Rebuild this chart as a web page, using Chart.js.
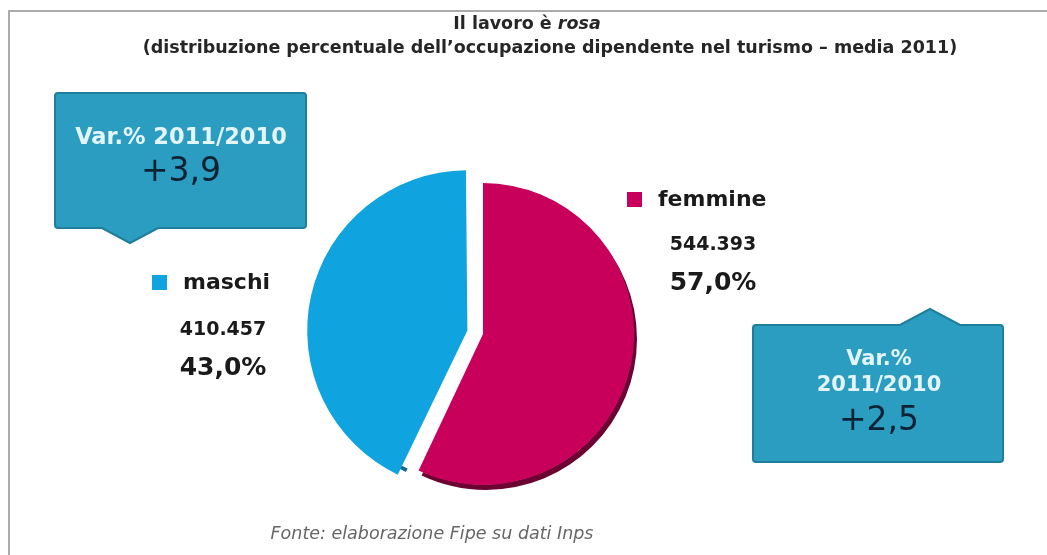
<!DOCTYPE html>
<html>
<head>
<meta charset="utf-8">
<script src="https://cdn.jsdelivr.net/npm/chart.js@4.4.0/dist/chart.umd.min.js"></script>
<style>
    html, body { margin: 0; padding: 0; background: #fff; }
    #wrap { position: relative; width: 1047px; height: 555px; }
</style>
</head>
<body>
<div id="wrap"><canvas id="myChart" width="1047" height="555"></canvas></div>
<script>
// dati (ordine di disegno: in senso orario da ore 12)
const CATEGORIE = ['femmine', 'maschi'];
const OCCUPATI = [544393, 410457];
const QUOTE = [57.0, 43.0];
const VARIAZIONI = [2.5, 3.9];
const ETICHETTA_VAR = 'Var.% 2011/2010';

const TITOLO = 'Il lavoro è ';
const TITOLO_CORSIVO = 'rosa';
const SOTTOTITOLO = '(distribuzione percentuale dell\u2019occupazione dipendente nel turismo \u2013 media 2011)';
const FONTE = 'Fonte: elaborazione Fipe su dati Inps';

const COLORI = ['#c8005c', '#0fa3df'];
const OMBRE = ['#6b0433', '#17698a'];

// posizioni delle etichette e dei riquadri
const POS_LEGENDA = [
    { x: 627, y: 200, cx: 713, yVal: 245, yPct: 283 },
    { x: 152, y: 283, cx: 223, yVal: 330, yPct: 368 }
];
const POS_BOX = [
    { x: 753, y: 325, w: 250, h: 137, px: 930, pw: 30, ph: 16, dir: 'up', cx: 879, righe: [360, 386], yNum: 421, size: 21 },
    { x: 55, y: 93, w: 251, h: 135, px: 130, pw: 28, ph: 15, dir: 'down', cx: 181, righe: [138], yNum: 172, size: 22.5 }
];

function formatoMigliaia(v) {
    return String(v).replace(/\B(?=(\d{3})+(?!\d))/g, '.');
}
function formatoDecimale(v) {
    return v.toFixed(1).replace('.', ',');
}

/**
 * cornice grigia, titolo e fonte
 */
const cornicePlugin = {
    id: 'cornice',
    beforeDraw(chart) {
        const ctx = chart.ctx;
        ctx.save();
        ctx.strokeStyle = '#ababab';
        ctx.lineWidth = 2;
        ctx.beginPath();
        ctx.moveTo(9, 555);
        ctx.lineTo(9, 11);
        ctx.lineTo(1047, 11);
        ctx.stroke();

        ctx.fillStyle = '#262626';
        ctx.textBaseline = 'middle';
        ctx.font = 'bold 17.5px "DejaVu Sans"';
        const w1 = ctx.measureText(TITOLO).width;
        ctx.font = 'italic bold 17.5px "DejaVu Sans"';
        const w2 = ctx.measureText(TITOLO_CORSIVO).width;
        const x = 527 - (w1 + w2) / 2;
        ctx.textAlign = 'left';
        ctx.font = 'bold 17.5px "DejaVu Sans"';
        ctx.fillText(TITOLO, x, 24);
        ctx.font = 'italic bold 17.5px "DejaVu Sans"';
        ctx.fillText(TITOLO_CORSIVO, x + w1, 24);

        ctx.textAlign = 'center';
        ctx.font = 'bold 17.5px "DejaVu Sans"';
        ctx.fillText(SOTTOTITOLO, 550, 48);

        ctx.fillStyle = '#666';
        ctx.font = 'italic 17.5px "DejaVu Sans"';
        ctx.fillText(FONTE, 432, 534);
        ctx.restore();
    }
};

/**
 * spessore 3D sotto le fette (solo fuori dal bordo della fetta)
 */
const ombraPlugin = {
    id: 'ombra',
    beforeDatasetsDraw(chart) {
        const ctx = chart.ctx;
        chart.getDatasetMeta(0).data.forEach((arc, i) => {
            const p = arc.getProps(['x', 'y', 'startAngle', 'endAngle', 'outerRadius']);
            const off = (arc.options.offset || 0) / 4;
            const mid = (p.startAngle + p.endAngle) / 2;
            ctx.save();
            ctx.translate(Math.cos(mid) * off, Math.sin(mid) * off);
            ctx.beginPath();
            ctx.rect(0, 0, chart.width, chart.height);
            ctx.arc(p.x, p.y, p.outerRadius - 0.5, 0, Math.PI * 2);
            ctx.clip('evenodd');
            ctx.translate(3, 5);
            ctx.fillStyle = OMBRE[i];
            ctx.beginPath();
            ctx.moveTo(p.x, p.y);
            ctx.arc(p.x, p.y, p.outerRadius, p.startAngle, p.endAngle);
            ctx.closePath();
            ctx.fill();
            ctx.restore();
        });
    }
};

function disegnaCallout(ctx, b) {
    const { x, y, w, h, px, pw, ph, dir } = b;
    const r = 3;
    ctx.beginPath();
    ctx.moveTo(x + r, y);
    if (dir === 'up') {
        ctx.lineTo(px - pw, y);
        ctx.lineTo(px, y - ph);
        ctx.lineTo(px + pw, y);
    }
    ctx.lineTo(x + w - r, y);
    ctx.quadraticCurveTo(x + w, y, x + w, y + r);
    ctx.lineTo(x + w, y + h - r);
    ctx.quadraticCurveTo(x + w, y + h, x + w - r, y + h);
    if (dir === 'down') {
        ctx.lineTo(px + pw, y + h);
        ctx.lineTo(px, y + h + ph);
        ctx.lineTo(px - pw, y + h);
    }
    ctx.lineTo(x + r, y + h);
    ctx.quadraticCurveTo(x, y + h, x, y + h - r);
    ctx.lineTo(x, y + r);
    ctx.quadraticCurveTo(x, y, x + r, y);
    ctx.closePath();
    ctx.fillStyle = '#2a9dc0';
    ctx.fill();
    ctx.strokeStyle = '#1f7e9c';
    ctx.lineWidth = 2;
    ctx.stroke();
}

/**
 * legenda con valori e riquadri delle variazioni
 */
const etichettePlugin = {
    id: 'etichette',
    afterDraw(chart) {
        const ctx = chart.ctx;
        ctx.save();
        ctx.textBaseline = 'middle';
        CATEGORIE.forEach((nome, i) => {
            const l = POS_LEGENDA[i];
            ctx.fillStyle = COLORI[i];
            ctx.fillRect(l.x, l.y - 8, 15, 15);
            ctx.fillStyle = '#1a1a1a';
            ctx.textAlign = 'left';
            ctx.font = 'bold 22px "DejaVu Sans"';
            ctx.fillText(nome, l.x + 31, l.y);
            ctx.textAlign = 'center';
            ctx.font = 'bold 19px "DejaVu Sans"';
            ctx.fillText(formatoMigliaia(OCCUPATI[i]), l.cx, l.yVal);
            ctx.font = 'bold 25px "DejaVu Sans"';
            ctx.fillText(formatoDecimale(QUOTE[i]) + '%', l.cx, l.yPct);

            const b = POS_BOX[i];
            disegnaCallout(ctx, b);
            ctx.fillStyle = '#e4f5fa';
            ctx.font = 'bold ' + b.size + 'px "DejaVu Sans"';
            const righe = b.righe.length > 1 ? ETICHETTA_VAR.split(' ') : [ETICHETTA_VAR];
            righe.forEach((t, k) => ctx.fillText(t, b.cx, b.righe[k]));
            ctx.fillStyle = '#0c2233';
            ctx.font = '33px "DejaVu Sans"';
            ctx.fillText('+' + formatoDecimale(VARIAZIONI[i]), b.cx, b.yNum);
        });
        ctx.restore();
    }
};

const ctx = document.getElementById('myChart').getContext('2d');
new Chart(ctx, {
    type: 'pie',
    data: {
        labels: CATEGORIE,
        datasets: [{
            data: OCCUPATI,
            backgroundColor: COLORI,
            borderWidth: 0,
            offset: [0, 64],
            hoverOffset: 0
        }]
    },
    options: {
        responsive: false,
        animation: false,
        layout: { padding: { left: 300, right: 381, top: 149, bottom: 36 } },
        plugins: {
            legend: { display: false },
            tooltip: { enabled: false }
        }
    },
    plugins: [cornicePlugin, ombraPlugin, etichettePlugin]
});
</script>
</body>
</html>
